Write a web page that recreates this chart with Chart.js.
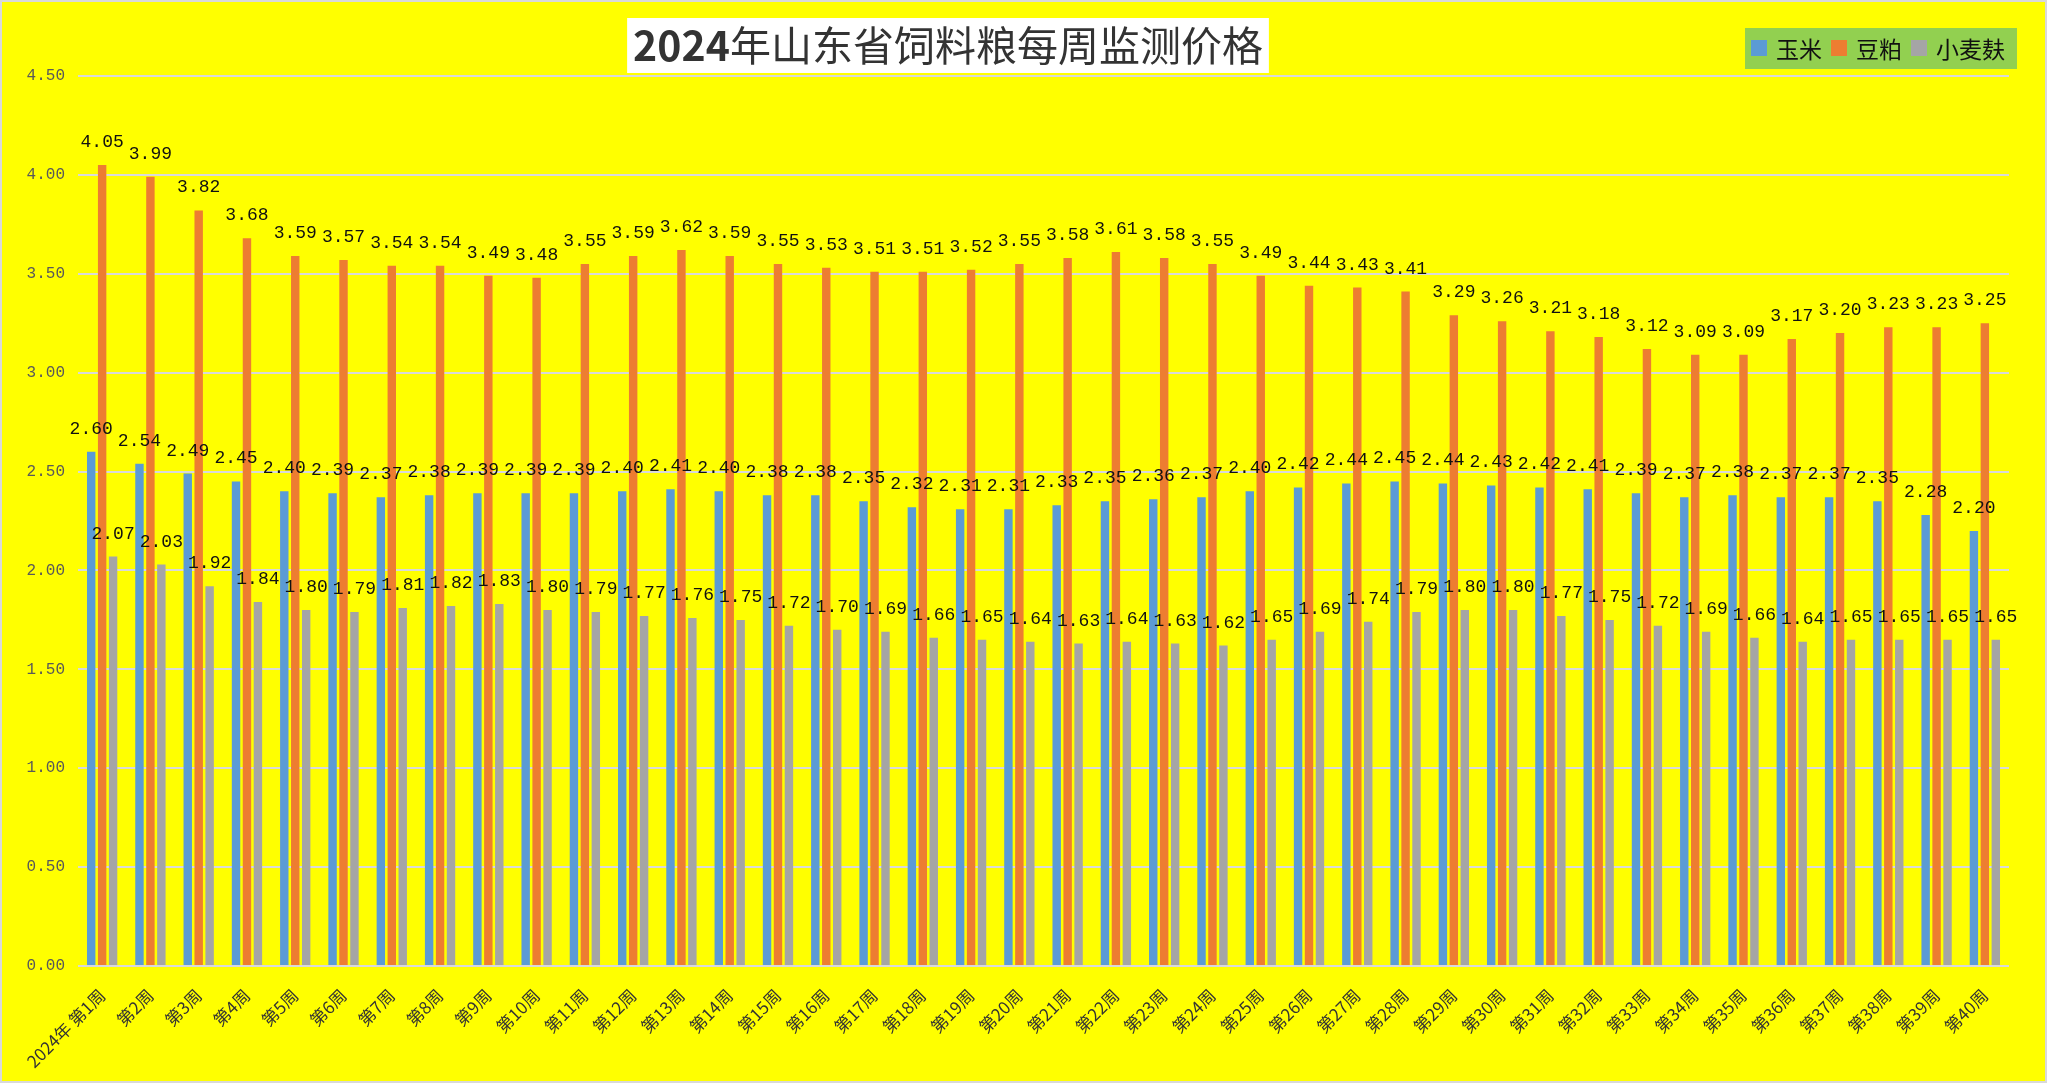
<!DOCTYPE html>
<html>
<head>
<meta charset="utf-8">
<script src="https://cdn.jsdelivr.net/npm/chart.js@4.4.1/dist/chart.umd.min.js"></script>
<style>
  html, body { margin: 0; padding: 0; background: #FFFF00; }
  canvas { display: block; }
</style>
</head>
<body>
<canvas id="c" width="2047" height="1083"></canvas>
<script>
const titleText = "2024年山东省饲料粮每周监测价格";
const seriesNames = ["玉米", "豆粕", "小麦麸"];
const weeks = ["2024年 第1周"];
for (let i = 2; i <= 40; i++) weeks.push("第" + i + "周");
const corn = [2.60, 2.54, 2.49, 2.45, 2.40, 2.39, 2.37, 2.38, 2.39, 2.39,
              2.39, 2.40, 2.41, 2.40, 2.38, 2.38, 2.35, 2.32, 2.31, 2.31,
              2.33, 2.35, 2.36, 2.37, 2.40, 2.42, 2.44, 2.45, 2.44, 2.43,
              2.42, 2.41, 2.39, 2.37, 2.38, 2.37, 2.37, 2.35, 2.28, 2.20];
const soyMeal = [4.05, 3.99, 3.82, 3.68, 3.59, 3.57, 3.54, 3.54, 3.49, 3.48,
                 3.55, 3.59, 3.62, 3.59, 3.55, 3.53, 3.51, 3.51, 3.52, 3.55,
                 3.58, 3.61, 3.58, 3.55, 3.49, 3.44, 3.43, 3.41, 3.29, 3.26,
                 3.21, 3.18, 3.12, 3.09, 3.09, 3.17, 3.20, 3.23, 3.23, 3.25];
const wheatBran = [2.07, 2.03, 1.92, 1.84, 1.80, 1.79, 1.81, 1.82, 1.83, 1.80,
                   1.79, 1.77, 1.76, 1.75, 1.72, 1.70, 1.69, 1.66, 1.65, 1.64,
                   1.63, 1.64, 1.63, 1.62, 1.65, 1.69, 1.74, 1.79, 1.80, 1.80,
                   1.77, 1.75, 1.72, 1.69, 1.66, 1.64, 1.65, 1.65, 1.65, 1.65];
const yMin = 0, yMax = 4.5, yStep = 0.5;

const colors = ["#5B9BD5", "#ED7D31", "#A5A5A5"];
const seriesData = [corn, soyMeal, wheatBran];

const bgPlugin = {
  id: 'bg',
  beforeDraw(chart) {
    const ctx = chart.ctx;
    ctx.save();
    ctx.fillStyle = '#FFFF00';
    ctx.fillRect(0, 0, chart.width, chart.height);
    ctx.restore();
  },
  afterDraw(chart) {
    const ctx = chart.ctx;
    ctx.save();
    // outer border
    ctx.strokeStyle = '#D9D9D9';
    ctx.lineWidth = 2;
    ctx.strokeRect(1, 1, chart.width - 2, chart.height - 2);
    // title
    const tx = 948;
    const ty = 45;
    const part1 = titleText.slice(0, 4), part2 = titleText.slice(4);
    const f1 = 'bold 41px "Noto Sans CJK SC"', f2 = '41px "Noto Sans CJK SC"';
    ctx.font = f1; const w1 = ctx.measureText(part1).width;
    ctx.font = f2; const w2 = ctx.measureText(part2).width;
    const tw = w1 + w2;
    const bw = tw + 12;
    ctx.fillStyle = '#FFFFFF';
    ctx.fillRect(tx - bw / 2, 18, bw, 55);
    ctx.fillStyle = '#333333';
    ctx.textBaseline = 'middle';
    ctx.textAlign = 'left';
    ctx.font = f1; ctx.fillText(part1, tx - tw / 2, ty);
    ctx.font = f2; ctx.fillText(part2, tx - tw / 2 + w1, ty);
    // legend
    ctx.fillStyle = '#92D050';
    ctx.fillRect(1745, 28, 272, 41);
    ctx.font = '23px "Noto Sans CJK SC"';
    let x = 1751;
    chart.data.datasets.forEach((ds, i) => {
      ctx.fillStyle = ds.backgroundColor;
      ctx.fillRect(x, 40, 16, 16);
      x += 25;
      ctx.fillStyle = '#111111';
      ctx.fillText(ds.label, x, 49);
      x += ctx.measureText(ds.label).width + 9;
    });
    ctx.restore();
  }
};

const labelPlugin = {
  id: 'valueLabels',
  afterDatasetsDraw(chart) {
    const ctx = chart.ctx;
    ctx.save();
    ctx.font = '18px "Liberation Mono"';
    ctx.fillStyle = '#111111';
    ctx.textAlign = 'center';
    ctx.textBaseline = 'alphabetic';
    chart.data.datasets.forEach((ds, i) => {
      const meta = chart.getDatasetMeta(i);
      meta.data.forEach((bar, j) => {
        ctx.fillText(ds.data[j].toFixed(2), bar.x, bar.y - 18);
      });
    });
    ctx.restore();
  }
};

new Chart(document.getElementById('c'), {
  type: 'bar',
  data: {
    labels: weeks,
    datasets: seriesNames.map((n, i) => ({
      label: n,
      data: seriesData[i],
      backgroundColor: colors[i],
      borderWidth: 0,
      categoryPercentage: 0.68,
      barPercentage: 0.77
    }))
  },
  options: {
    responsive: false,
    animation: false,
    devicePixelRatio: 1,
    layout: { padding: { top: 76, right: 38, left: 0, bottom: 0 } },
    plugins: {
      legend: { display: false },
      title: { display: false, text: titleText },
      tooltip: { enabled: false }
    },
    scales: {
      x: {
        grid: { display: false, drawTicks: false },
        border: { display: false },
        ticks: {
          autoSkip: false,
          minRotation: 45,
          maxRotation: 45,
          padding: 19,
          color: '#333333',
          font: { family: '"Noto Sans CJK SC"', size: 17 }
        },
        afterFit(scale) {
          scale.height = 117;
          scale.paddingLeft = 0;
          scale.paddingRight = 0;
        }
      },
      y: {
        min: yMin,
        max: yMax,
        border: { display: false },
        grid: { color: '#D9D9D9', lineWidth: 2, drawTicks: false },
        ticks: {
          stepSize: yStep,
          padding: 13,
          color: '#595959',
          font: { family: '"Liberation Mono"', size: 16 },
          callback: v => Number(v).toFixed(2)
        },
        afterFit(scale) {
          scale.width = 78;
          scale.paddingTop = 0;
          scale.paddingBottom = 0;
        }
      }
    }
  },
  plugins: [bgPlugin, labelPlugin]
});
</script>
</body>
</html>
